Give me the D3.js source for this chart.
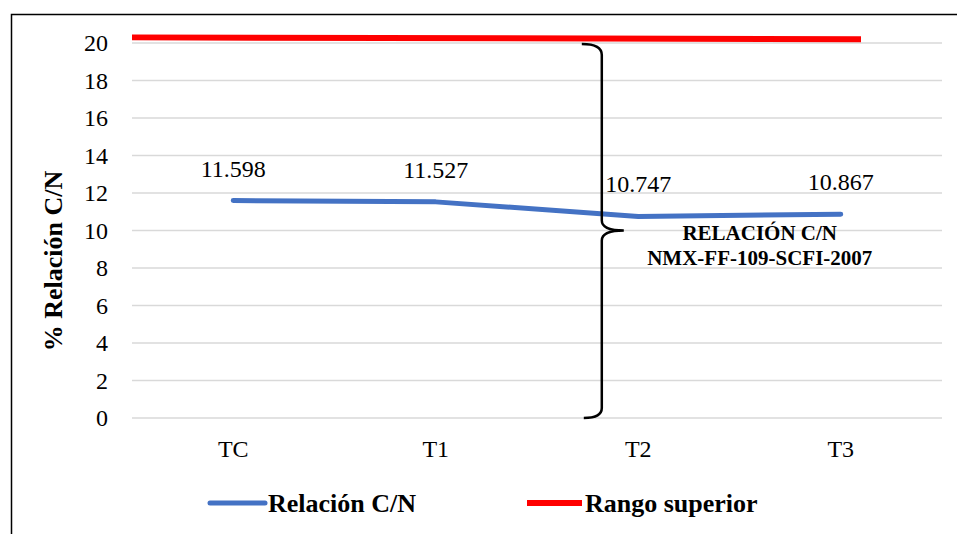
<!DOCTYPE html>
<html>
<head>
<meta charset="utf-8">
<script src="https://cdn.jsdelivr.net/npm/d3@7"></script>
<style>
  body { margin: 0; background: #fff; }
  svg { display: block; }
  svg text { font-family: "Liberation Serif", "Times New Roman", serif; }
</style>
</head>
<body>
<svg id="chart" width="957" height="534"></svg>
<script>
const categories = ['TC', 'T1', 'T2', 'T3'];
const relacionCN = [11.598, 11.527, 10.747, 10.867];
const rangoIndex = [-0.5, 3.1];
const rangoSuperior = [20.3, 20.2];
const yTicks = [0, 2, 4, 6, 8, 10, 12, 14, 16, 18, 20];
const braceRange = [0, 10, 20];
const noteLines = ['RELACIÓN C/N', 'NMX-FF-109-SCFI-2007'];

const font = '"Liberation Serif", "Times New Roman", serif';
const color = { blue: '#4472c4', red: '#ff0000', grid: '#d9d9d9', text: '#000' };
const svg = d3.select('#chart').attr('font-family', font);
const margin = { left: 132, right: 15, top: 43, bottom: 116 };
const width = 957, height = 534;

// frame
svg.append('rect')
    .attr('x', 11.5).attr('y', 14.5)
    .attr('width', 960).attr('height', 540)
    .attr('fill', 'none').attr('stroke', '#000').attr('stroke-width', 1.5);

const x = d3.scaleBand()
    .domain(categories)
    .range([margin.left, width - margin.right]);
const xi = d3.scaleLinear()
    .domain([0, categories.length - 1])
    .range([x(categories[0]) + x.bandwidth() / 2, x(categories[categories.length - 1]) + x.bandwidth() / 2]);
const y = d3.scaleLinear()
    .domain([0, 20])
    .range([height - margin.bottom, margin.top]);

// grid
svg.append('g')
    .selectAll('line')
    .data(yTicks)
    .enter()
    .append('line')
    .attr('x1', margin.left)
    .attr('x2', width - margin.right)
    .attr('y1', d => y(d))
    .attr('y2', d => y(d))
    .attr('stroke', color.grid)
    .attr('stroke-width', 1.5);

// y axis
const yAxis = svg.append('g')
    .attr('transform', `translate(${margin.left - 24},0)`)
    .call(d3.axisLeft(y).tickValues(yTicks).tickSize(0).tickPadding(0))
    .attr('font-family', font)
    .attr('font-size', 24);
yAxis.select('.domain').remove();
yAxis.selectAll('text').attr('fill', color.text);

// x axis
const xAxis = svg.append('g')
    .attr('transform', `translate(0,${y(0) + 22})`)
    .call(d3.axisBottom(x).tickSize(0).tickPadding(0))
    .attr('font-family', font)
    .attr('font-size', 24);
xAxis.select('.domain').remove();
xAxis.selectAll('text').attr('dy', '0.71em').attr('fill', color.text);

// axis title
svg.append('text')
    .attr('transform', `translate(62,261) rotate(-90)`)
    .attr('text-anchor', 'middle')
    .attr('font-size', 26)
    .attr('font-weight', 'bold')
    .text('% Relación C/N');

// rango superior
svg.append('path')
    .datum(rangoIndex.map((d, i) => [d, rangoSuperior[i]]))
    .attr('d', d3.line().x(d => xi(d[0])).y(d => y(d[1])))
    .attr('fill', 'none')
    .attr('stroke', color.red)
    .attr('stroke-width', 6);

// relacion C/N
svg.append('path')
    .datum(relacionCN)
    .attr('d', d3.line().x((d, i) => xi(i)).y(d => y(d)))
    .attr('fill', 'none')
    .attr('stroke', color.blue)
    .attr('stroke-width', 5)
    .attr('stroke-linecap', 'round')
    .attr('stroke-linejoin', 'round');

// data labels
svg.append('g')
    .selectAll('text')
    .data(relacionCN)
    .enter()
    .append('text')
    .attr('x', (d, i) => xi(i))
    .attr('y', d => y(d) - 24)
    .attr('text-anchor', 'middle')
    .attr('font-size', 24)
    .text(d => d3.format('.3f')(d));

// brace
const bx = xi(1.82);
const [b0, bm, b1] = braceRange.map(d => y(d));
svg.append('path')
    .attr('d', `M ${bx - 20} ${b1 + 1} Q ${bx} ${b1 + 1} ${bx} ${b1 + 12}
                L ${bx} ${bm - 10} Q ${bx} ${bm} ${bx + 22} ${bm}
                Q ${bx} ${bm} ${bx} ${bm + 10}
                L ${bx} ${b0 - 10} Q ${bx} ${b0} ${bx - 18} ${b0}`)
    .attr('fill', 'none')
    .attr('stroke', '#000')
    .attr('stroke-width', 2.5);

// note
svg.append('g')
    .selectAll('text')
    .data(noteLines)
    .enter()
    .append('text')
    .attr('x', xi(2.6))
    .attr('y', (d, i) => bm + 9 + i * 25)
    .attr('text-anchor', 'middle')
    .attr('font-size', 21)
    .attr('font-weight', 'bold')
    .text(d => d);

// legend
const legend = [
  { name: 'Relación C/N', color: color.blue, x: 210, w: 5 },
  { name: 'Rango superior', color: color.red, x: 527, w: 6 }
];
const lg = svg.append('g').selectAll('g')
    .data(legend)
    .enter()
    .append('g')
    .attr('transform', d => `translate(${d.x},503)`);
lg.append('line')
    .attr('x1', 0).attr('x2', 55)
    .attr('stroke', d => d.color)
    .attr('stroke-width', d => d.w)
    .attr('stroke-linecap', d => d.color === color.blue ? 'round' : 'butt');
lg.append('text')
    .attr('x', 58)
    .attr('dy', '0.35em')
    .attr('font-size', 26)
    .attr('font-weight', 'bold')
    .text(d => d.name);
</script>
</body>
</html>
